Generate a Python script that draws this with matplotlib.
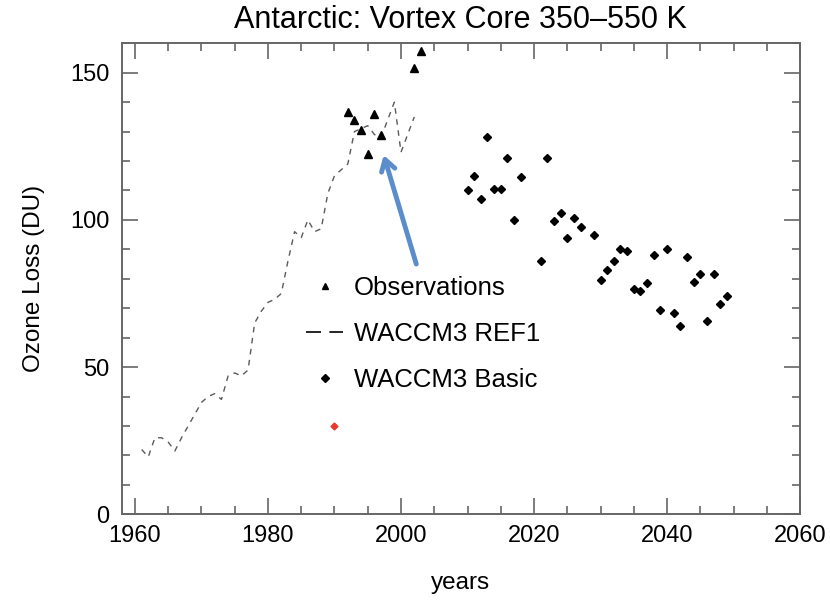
import matplotlib
matplotlib.use("Agg")
import matplotlib.pyplot as plt
from matplotlib.lines import Line2D
from matplotlib.ticker import MultipleLocator

plt.rcParams['font.family'] = ['Liberation Sans', 'DejaVu Sans']

# observed vortex core ozone loss
obs_years = [1992, 1993, 1994, 1995, 1996, 1997, 2002, 2003]
obs_loss = [136.5, 134, 130.5, 122.5, 136, 129, 151.5, 157.5]

# WACCM3 REF1 run, annual values
ref1_years = list(range(1961, 2003))
ref1_loss = [22, 19.5, 26, 26, 24.5, 21.5, 26, 30, 34, 38,
             40, 41, 39, 47, 48, 47, 49, 65, 69, 72,
             73, 75, 86, 96, 94, 100, 96, 97, 109, 115,
             117, 119, 130, 131, 132, 129, 128, 134, 140, 123,
             129, 135]

# WACCM3 Basic run (future)
basic_years = [2010, 2011, 2012, 2013, 2014, 2015, 2016, 2017, 2018,
               2021, 2022, 2023, 2024, 2025, 2026, 2027, 2029, 2030,
               2031, 2032, 2033, 2034, 2035, 2036, 2037, 2038, 2039,
               2040, 2041, 2042, 2043, 2044, 2045, 2046, 2047, 2048, 2049]
basic_loss = [110, 115, 107, 128, 110.5, 110.5, 121, 100, 114.5,
              86, 121, 99.5, 102.5, 94, 100.5, 97.5, 95, 79.5,
              83, 86, 90, 89.5, 76.5, 76, 78.5, 88, 69.5,
              90, 68.5, 64, 87.5, 79, 81.5, 65.5, 81.5, 71.5, 74]

# single red point
red_years = [1990]
red_loss = [30]

fig = plt.figure(figsize=(8.30, 6.01), dpi=100)
ax = fig.add_axes([0.1466, 0.1443, 0.8173, 0.7837])

ax.plot(ref1_years, ref1_loss, color='#5a5a5a', lw=1.0, dashes=(4, 4))
ax.plot(obs_years, obs_loss, ls='none', marker='^', ms=6, color='black')
ax.plot(basic_years, basic_loss, ls='none', marker='D', ms=4.5, color='black')
ax.plot(red_years, red_loss, ls='none', marker='D', ms=3.5, color='#e8392b')

ax.annotate('', xy=(1997.4, 122), xytext=(2002.3, 85),
            arrowprops=dict(arrowstyle='->,head_length=0.8,head_width=0.5',
                            color='#5b8ccc', lw=3.5, shrinkA=0, shrinkB=0))

ax.set_xlim(1958, 2060)
ax.set_ylim(0, 160)
ax.xaxis.set_major_locator(MultipleLocator(20))
ax.xaxis.set_minor_locator(MultipleLocator(5))
ax.yaxis.set_major_locator(MultipleLocator(50))
ax.yaxis.set_minor_locator(MultipleLocator(10))

ax.tick_params(which='both', direction='in', top=True, right=True,
               color='#666666', width=1.2, labelsize=17)
ax.tick_params(which='major', length=11.5)
ax.tick_params(which='minor', length=5.8)
ax.tick_params(axis='x', pad=8)
ax.tick_params(axis='y', pad=9)
for s in ax.spines.values():
    s.set_color('#666666')
    s.set_linewidth(1.4)

ax.set_title('Antarctic: Vortex Core 350\u2013550 K', fontsize=22, pad=11)
ax.set_xlabel('years', fontsize=17.5, labelpad=18)
ax.set_ylabel('Ozone Loss (DU)', fontsize=17.5, labelpad=18)

handles = [
    Line2D([], [], ls='none', marker='^', ms=5, color='black'),
    Line2D([], [], color='black', lw=1.2, dashes=(9, 5)),
    Line2D([], [], ls='none', marker='D', ms=4, color='black'),
]
labels = ['Observations', 'WACCM3 REF1', 'WACCM3 Basic']
ax.legend(handles, labels, loc='upper left', bbox_to_anchor=(0.272, 0.505),
          frameon=False, fontsize=18.5, handlelength=1.45, handletextpad=0.4,
          labelspacing=0.85, borderpad=0, borderaxespad=0)

fig.savefig('out.png', dpi=100)
